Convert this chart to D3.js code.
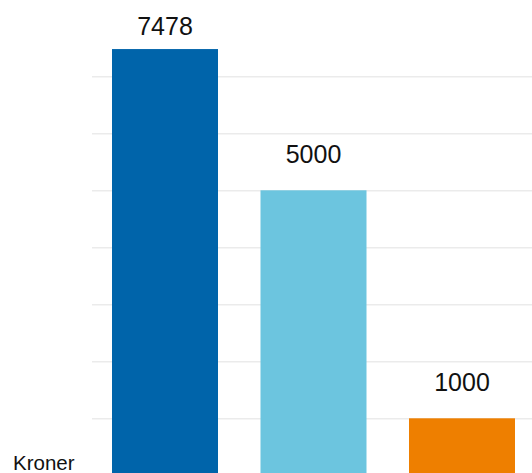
<!DOCTYPE html>
<html><head><meta charset="utf-8">
<script src="https://cdn.jsdelivr.net/npm/d3@7"></script>
<style>html,body{margin:0;padding:0;background:#fff;overflow:hidden}svg{display:block}</style>
</head><body>
<script>
const categories = ["A", "B", "C"];
const values = [7478, 5000, 1000];
const colors = ["#0064aa", "#6cc5df", "#ee7f00"];
const gridTicks = [1000, 2000, 3000, 4000, 5000, 6000, 7000];
const axisTitle = "Kroner";

const W = 532, H = 473;
const svg = d3.select("body").append("svg").attr("width", W).attr("height", H);

const y = d3.scaleLinear().domain([0, 8000]).range([475.3, 19.3]);
const x = d3.scaleBand().domain(categories).range([92, 535]).paddingInner(0.2862).paddingOuter(0.1347);

// gridlines
const yAxis = d3.axisLeft(y).tickValues(gridTicks).tickSize(-(W - 92)).tickFormat("");
const g = svg.append("g").attr("transform", "translate(92,0)").call(yAxis);
g.select(".domain").remove();
g.selectAll(".tick line").attr("stroke", "#ebebeb").attr("stroke-width", 1.5);

// bars
svg.selectAll("rect.bar").data(values).enter().append("rect")
  .attr("class", "bar")
  .attr("x", (d, i) => x(categories[i]))
  .attr("width", x.bandwidth())
  .attr("y", d => y(d))
  .attr("height", d => y(0) - y(d))
  .attr("fill", (d, i) => colors[i]);

// value labels
svg.selectAll("text.val").data(values).enter().append("text")
  .attr("class", "val")
  .attr("x", (d, i) => x(categories[i]) + x.bandwidth() / 2)
  .attr("y", d => Math.max(y(d) - 27, 35))
  .attr("text-anchor", "middle")
  .attr("font-family", "Liberation Sans, Arial, sans-serif")
  .attr("font-size", 25)
  .attr("fill", "#111")
  .text(d => d);

svg.append("text")
  .attr("x", 13).attr("y", 470)
  .attr("font-family", "Liberation Sans, Arial, sans-serif")
  .attr("font-size", 20.5)
  .attr("fill", "#111")
  .text(axisTitle);
</script>
</body></html>
